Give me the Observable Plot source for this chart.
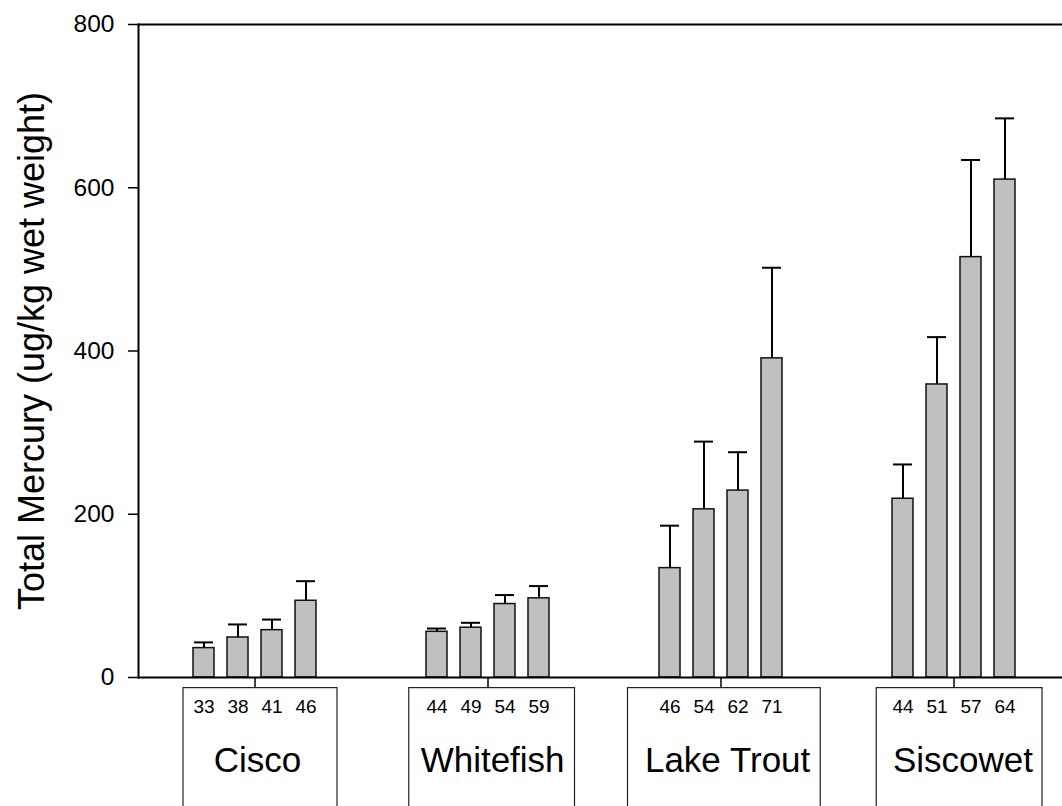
<!DOCTYPE html>
<html><head><meta charset="utf-8">
<script src="https://cdn.jsdelivr.net/npm/d3@7"></script>
<script src="https://cdn.jsdelivr.net/npm/@observablehq/plot@0.6"></script>
<style>
html,body{margin:0;padding:0;background:#fff;overflow:hidden;}
#chart{width:1062px;height:806px;overflow:hidden;}
#chart svg{max-width:none !important;}
</style></head><body><div id="chart"></div>
<script>
const species = ["Cisco", "Whitefish", "Lake Trout", "Siscowet"];
const sizeLabels = [[33, 38, 41, 46], [44, 49, 54, 59], [46, 54, 62, 71], [44, 51, 57, 64]];
const meanHg = [[36, 49, 58, 94], [56, 61, 90, 97], [134, 206, 229, 391], [219, 359, 515, 610]];
const upperErr = [[43, 65, 71, 118], [60, 67, 101, 112], [186, 289, 276, 502], [261, 417, 634, 685]];
const yTicks = [0, 200, 400, 600, 800];
const yTitle = "Total Mercury (ug/kg wet weight)";

// layout (not data)
const boxInsets = [[45, 34], [37.75, 29.5], [23.5, 16.75], [39.25, 28]];
const labelDx = [2.5, 4.6, 6.6, 9];

const rows = species.flatMap((s, g) => sizeLabels[g].map((n, i) => ({
  group: s, idx: i, n: String(n), mean: meanHg[g][i], err: upperErr[g][i]
})));

const fontFamily = "'Liberation Sans', Arial, Helvetica, sans-serif";

const plot = Plot.plot({
  width: 1070, height: 806,
  marginTop: 24, marginBottom: 129, marginLeft: 137, marginRight: 0,
  style: {fontFamily, background: "white", color: "black", maxWidth: "none"},
  fx: {domain: species, padding: 0, label: null},
  x: {domain: [0, 1, 2, 3], paddingInner: 0.38, paddingOuter: 1.523, align: 0.5, axis: null},
  y: {domain: [0, 800], label: null},
  marks: [
    Plot.barY(rows, {fx: "group", x: "idx", y: "mean", fill: "#c0c0c0", stroke: "#111", strokeWidth: 1.5}),
    Plot.ruleX(rows, {fx: "group", x: "idx", y1: "mean", y2: "err", stroke: "black", strokeWidth: 2}),
    Plot.tickY(rows, {fx: "group", x: "idx", y: "err", stroke: "black", strokeWidth: 2, insetLeft: 1, insetRight: 1}),
    Plot.ruleY([0], {stroke: "black", strokeWidth: 2}),
    Plot.ruleY([800], {stroke: "black", strokeWidth: 2}),
    Plot.frame({anchor: "left", facetAnchor: "left", stroke: "black", strokeWidth: 2}),
    Plot.axisY({ticks: yTicks, tickSize: 10, tickPadding: 14, fontSize: 24.5, strokeWidth: 1.5, label: null}),
    Plot.axisFx({anchor: "bottom", tickSize: 10, tickFormat: () => "", label: null, strokeWidth: 1.5}),
    Plot.text(rows, {fx: "group", x: "idx", y: 0, text: "n", dy: 29.5, fontSize: 19}),
    ...species.map((s, g) => Plot.barY([s], {
      fx: d => d, y1: -13, y2: -200, fill: "none", stroke: "#222", strokeWidth: 1.2,
      insetLeft: boxInsets[g][0], insetRight: boxInsets[g][1]
    })),
    ...species.map((s, g) => Plot.text([s], {
      fx: d => d, text: d => d, frameAnchor: "bottom", dy: 94, dx: labelDx[g], fontSize: 35
    })),
    Plot.text([yTitle], {
      fx: () => species[0], text: d => d, frameAnchor: "left", textAnchor: "middle",
      rotate: -90, dx: -106.5, fontSize: 36
    })
  ]
});
document.getElementById("chart").appendChild(plot);
</script>
</body></html>
